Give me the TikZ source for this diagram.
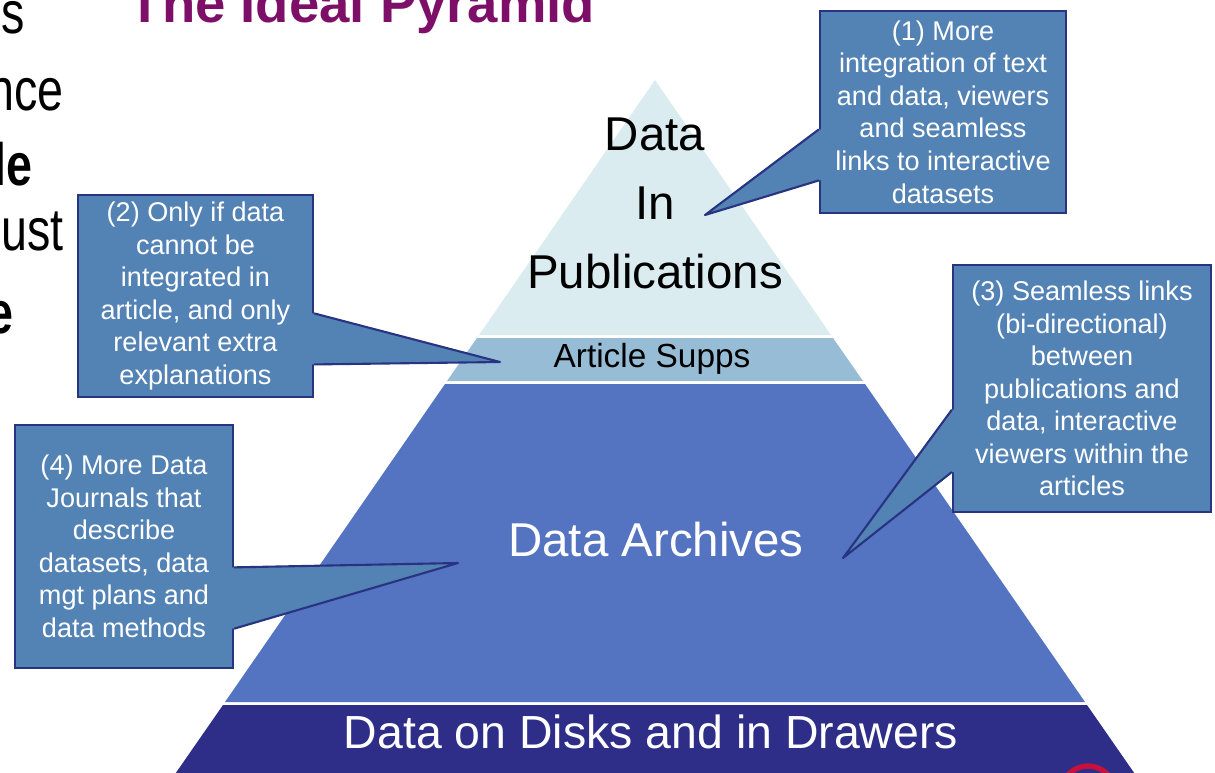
\documentclass[tikz,border=0pt]{standalone}
\usepackage{fontspec}
\setmainfont{Liberation Sans}
\usetikzlibrary{calc}

\definecolor{pyrtop}{RGB}{218,236,239}
\definecolor{pyrsupp}{RGB}{150,188,214}
\definecolor{pyrarch}{RGB}{84,115,192}
\definecolor{pyrbase}{RGB}{46,46,136}
\definecolor{notefill}{RGB}{83,130,180}
\definecolor{noteline}{RGB}{40,52,130}
\definecolor{titlepurple}{RGB}{125,15,105}
\definecolor{logored}{RGB}{200,16,60}

\begin{document}
\begin{tikzpicture}[x=0.01cm,y=-0.01cm]
  \tikzstyle{every node}+=[inner sep=0pt]
  \tikzstyle{note}=[fill=notefill, draw=noteline, line width=0.6pt, align=center, text=white, font=\fontsize{7.7}{9.25}\selectfont]
  \tikzstyle{pointer}=[draw=noteline, line width=0.6pt, line join=round]
  \tikzstyle{fragment}=[anchor=base east, xscale=0.78, transform shape, font=\fontsize{17}{20}\selectfont]
  \useasboundingbox (0,0) rectangle (1215,772);
  \clip (0,0) rectangle (1215,772);
  % slide text cut off at the left and the top
  \node [anchor=base west, font=\bfseries\fontsize{15.5}{18}\selectfont, text=titlepurple] (title) at (128,22) {The Ideal Pyramid};
  \node [fragment] (frag1) at (25,33) {s};
  \node [fragment] (frag2) at (64,110) {nce};
  \node [fragment, font=\bfseries\fontsize{17}{20}\selectfont] (frag3) at (33,185) {le};
  \node [fragment] (frag4) at (64,250) {ust};
  \node [fragment, font=\bfseries\fontsize{17}{20}\selectfont] (frag5) at (14,333) {e};
  % pyramid layers
  \fill [pyrtop] (655,80) -- (831,335) -- (479,335) -- cycle;
  \fill [pyrsupp] (477,338) -- (833,338) -- (863,381) -- (447,381) -- cycle;
  \fill [pyrarch] (445,384) -- (865,384) -- (1085,702) -- (225,702) -- cycle;
  \fill [pyrbase] (223,705) -- (1087,705) -- (1137,777) -- (173,777) -- cycle;
  \draw [logored, line width=1.5pt] (1088,793) circle [radius=0.27cm];
  \node [align=center, font=\fontsize{13.5}{19.6}\selectfont] (pubs) at (655,203) {Data\\In\\Publications};
  \node [anchor=base, font=\fontsize{9.5}{11}\selectfont] (supps) at (652,367) {Article Supps};
  \node [anchor=base, text=white, font=\fontsize{13.5}{16}\selectfont] (archives) at (656,556) {Data Archives};
  \node [anchor=base, text=white, font=\fontsize{13.2}{16}\selectfont] (disks) at (651,748) {Data on Disks and in Drawers};
  % callout (1)
  \node [note, minimum width=2.46cm, minimum height=2.02cm] (note1) at (943,112) {(1) More\\integration of text\\and data, viewers\\and seamless\\links to interactive\\datasets};
  \coordinate (tip1) at (705,215);
  \coordinate (n1a) at ($(note1.north west)!0.585!(note1.south west)$);
  \coordinate (n1b) at ($(note1.north west)!0.835!(note1.south west)$);
  \fill [notefill] ([xshift=0.04cm]n1a) -- (n1a) -- (tip1) -- (n1b) -- ([xshift=0.04cm]n1b) -- cycle;
  \draw [pointer] (n1a) -- (tip1) -- (n1b);
  % callout (2)
  \node [note, minimum width=2.35cm, minimum height=2.02cm] (note2) at (195.5,296) {(2) Only if data\\cannot be\\integrated in\\article, and only\\relevant extra\\explanations};
  \coordinate (tip2) at (500,362);
  \coordinate (n2a) at ($(note2.north east)!0.585!(note2.south east)$);
  \coordinate (n2b) at ($(note2.north east)!0.835!(note2.south east)$);
  \fill [notefill] ([xshift=-0.04cm]n2a) -- (n2a) -- (tip2) -- (n2b) -- ([xshift=-0.04cm]n2b) -- cycle;
  \draw [pointer] (n2a) -- (tip2) -- (n2b);
  % callout (3)
  \node [note, minimum width=2.58cm, minimum height=2.47cm] (note3) at (1082,388.5) {(3) Seamless links\\(bi-directional)\\between\\publications and\\data, interactive\\viewers within the\\articles};
  \coordinate (tip3) at (843,558);
  \coordinate (n3a) at ($(note3.north west)!0.585!(note3.south west)$);
  \coordinate (n3b) at ($(note3.north west)!0.835!(note3.south west)$);
  \fill [notefill] ([xshift=0.04cm]n3a) -- (n3a) -- (tip3) -- (n3b) -- ([xshift=0.04cm]n3b) -- cycle;
  \draw [pointer] (n3a) -- (tip3) -- (n3b);
  % callout (4)
  \node [note, minimum width=2.18cm, minimum height=2.43cm] (note4) at (124,546.5) {(4) More Data\\Journals that\\describe\\datasets, data\\mgt plans and\\data methods};
  \coordinate (tip4) at (458,563);
  \coordinate (n4a) at ($(note4.north east)!0.585!(note4.south east)$);
  \coordinate (n4b) at ($(note4.north east)!0.835!(note4.south east)$);
  \fill [notefill] ([xshift=-0.04cm]n4a) -- (n4a) -- (tip4) -- (n4b) -- ([xshift=-0.04cm]n4b) -- cycle;
  \draw [pointer] (n4a) -- (tip4) -- (n4b);
\end{tikzpicture}
\end{document}
